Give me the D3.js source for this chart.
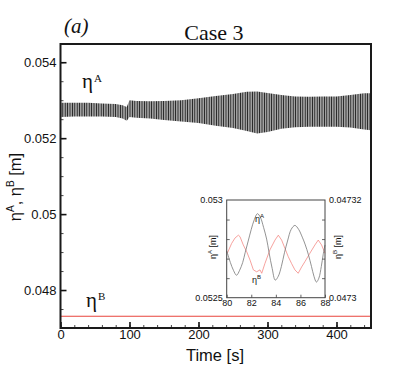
<!DOCTYPE html>
<html>
<head>
<meta charset="utf-8">
<style>
body { margin: 0; background: #fff; }
text { font-family: "Liberation Sans", Arial, sans-serif; fill: #111; }
.serif { font-family: "Liberation Serif", "Times New Roman", serif; }
</style>
<title>Case 3</title>
</head>
<body>
<div id="chart"></div>
<script src="https://d3js.org/d3.v7.min.js"></script>
<script>
// main panel: eta A is a fast oscillation, kept as its upper / lower envelope
var timeA  = [0, 20, 40, 60, 80, 90, 96, 100, 110, 130, 150, 175, 200, 225, 250, 270, 285, 300, 320, 340, 360, 380, 400, 420, 440, 450];
var upperA = [0.05293, 0.05293, 0.05293, 0.05291, 0.05290, 0.05287, 0.05282, 0.05300, 0.05298, 0.05297, 0.05298, 0.05300, 0.05305, 0.05311,
              0.05316, 0.05322, 0.05323, 0.05319, 0.05314, 0.05310, 0.05309, 0.05310, 0.05310, 0.05314, 0.05318, 0.05318];
var lowerA = [0.05256, 0.05257, 0.05257, 0.05257, 0.05256, 0.05252, 0.05246, 0.05256, 0.05254, 0.05252, 0.05248, 0.05244, 0.05240, 0.05233,
              0.05227, 0.05219, 0.05212, 0.05216, 0.05225, 0.05229, 0.05230, 0.05230, 0.05230, 0.05228, 0.05223, 0.05221];
var timeB = [0, 50, 100, 150, 200, 250, 300, 350, 400, 450];
var etaB  = [0.04731, 0.04731, 0.04731, 0.04731, 0.04731, 0.04731, 0.04731, 0.04731, 0.04731, 0.04731];
var xTicks = [0, 100, 200, 300, 400];
var yTicks = [0.048, 0.05, 0.052, 0.054];

// inset, t = 80..88 s
var insetTimeA = [80, 80.3, 80.55, 80.8, 81.05, 81.3, 81.5, 81.75, 82.0, 82.25, 82.5, 82.75, 83.0, 83.25, 83.45, 83.7, 83.95,
                  84.2, 84.45, 84.7, 84.95, 85.25, 85.55, 85.85, 86.15, 86.4, 86.65, 86.9, 87.1, 87.3, 87.5, 87.7, 87.85, 88];
var insetEtaA  = [0.05274, 0.05268, 0.05264, 0.052615, 0.05264, 0.05268, 0.05273, 0.05279, 0.05285, 0.05290, 0.05293, 0.05291,
                  0.05286, 0.05280, 0.05273, 0.05265, 0.05259, 0.05261, 0.05266, 0.05273, 0.05279, 0.05285, 0.05287, 0.05285,
                  0.05281, 0.05277, 0.05272, 0.05266, 0.05261, 0.05258, 0.05260, 0.05266, 0.05272, 0.05277];
var insetTimeB = [80.05, 80.4, 80.67, 80.95, 81.08, 81.35, 81.63, 81.9, 82.17, 82.44, 82.71, 82.85, 83.11, 83.52, 83.93, 84.2,
                  84.47, 84.74, 85.01, 85.28, 85.55, 85.82, 86.1, 86.37, 86.77, 87.18, 87.45, 87.72, 88];
var insetEtaB  = [0.0473091, 0.0473111, 0.0473122, 0.0473128, 0.0473125, 0.0473108, 0.0473094, 0.0473077, 0.0473057, 0.0473053,
                  0.0473057, 0.047305, 0.047307, 0.0473098, 0.0473118, 0.0473128, 0.0473118, 0.0473101, 0.0473084, 0.047307,
                  0.0473057, 0.047305, 0.0473063, 0.0473074, 0.0473091, 0.0473108, 0.0473118, 0.0473108, 0.0473091];
var insetXTicks  = [80, 82, 84, 86, 88];
var insetYTicksA = [0.0525, 0.053];
var insetYTicksB = [0.0473, 0.04732];

var width = 415,
    height = 369;

var svg = d3.select("#chart").append("svg")
    .attr("width", width)
    .attr("height", height);

var x = d3.scaleLinear().domain([0, 450]).range([60.5, 371]);
var y = d3.scaleLinear().domain([0.047, 0.05448]).range([328, 44]);

var defs = svg.append("defs");
var hatch = defs.append("pattern")
    .attr("id", "hatch")
    .attr("patternUnits", "userSpaceOnUse")
    .attr("width", 2.4)
    .attr("height", 10);
hatch.append("rect").attr("width", 2.4).attr("height", 10).attr("fill", "#a0a0a0");
hatch.append("rect").attr("width", 0.8).attr("height", 10).attr("fill", "#1a1a1a");

var bandA = timeA.map(function(t, i) { return {t: t, hi: upperA[i], lo: lowerA[i]}; });

svg.append("path")
    .datum(bandA)
    .attr("fill", "url(#hatch)")
    .attr("d", d3.area()
        .x(function(d) { return x(d.t); })
        .y0(function(d) { return y(d.lo); })
        .y1(function(d) { return y(d.hi); }));

svg.append("path")
    .datum(timeB.map(function(t, i) { return [t, etaB[i]]; }))
    .attr("fill", "none")
    .attr("stroke", "#e8443c")
    .attr("stroke-width", 1.2)
    .attr("d", d3.line()
        .x(function(d) { return x(d[0]); })
        .y(function(d) { return y(d[1]); }));

// axes
var fmt = d3.format("~g");

var gxMinor = svg.append("g")
    .attr("transform", "translate(0,328)")
    .call(d3.axisBottom(x).tickValues(x.ticks(22)).tickSize(-3).tickFormat(""));
var gyMinor = svg.append("g")
    .attr("transform", "translate(60.5,0)")
    .call(d3.axisLeft(y).tickValues(y.ticks(15)).tickSize(-3).tickFormat(""));
[gxMinor, gyMinor].forEach(function(g) {
    g.select(".domain").remove();
    g.selectAll("line").attr("stroke", "#444");
});

var gx = svg.append("g")
    .attr("transform", "translate(0,328)")
    .call(d3.axisBottom(x).tickValues(xTicks).tickSize(-6).tickPadding(2));
var gy = svg.append("g")
    .attr("transform", "translate(60.5,0)")
    .call(d3.axisLeft(y).tickValues(yTicks).tickSize(-6).tickPadding(4).tickFormat(fmt));
[gx, gy].forEach(function(g) {
    g.select(".domain").remove();
    g.selectAll("line").attr("stroke", "#111").attr("stroke-width", 1.6);
    g.selectAll("text").attr("font-size", 13).attr("fill", "#111")
        .style("font-family", "'Liberation Sans', Arial, sans-serif");
});

svg.append("rect")
    .attr("x", x(0)).attr("y", y(0.05448))
    .attr("width", x(450) - x(0)).attr("height", y(0.047) - y(0.05448))
    .attr("fill", "none")
    .attr("stroke", "#1a1a1a")
    .attr("stroke-width", 2);

// titles and labels
svg.append("text").attr("class", "serif")
    .attr("x", 64).attr("y", 33)
    .attr("font-size", 21).attr("font-style", "italic")
    .text("(a)");

svg.append("text").attr("class", "serif")
    .attr("x", 214).attr("y", 40)
    .attr("text-anchor", "middle")
    .attr("font-size", 22)
    .text("Case 3");

svg.append("text")
    .attr("x", 215).attr("y", 361)
    .attr("text-anchor", "middle")
    .attr("font-size", 16.5)
    .text("Time [s]");

var ytitle = svg.append("text")
    .attr("transform", "translate(21,187) rotate(-90)")
    .attr("text-anchor", "middle")
    .attr("font-size", 16.5);
ytitle.append("tspan").text("η");
ytitle.append("tspan").attr("font-size", 10).attr("dy", -7).text("A");
ytitle.append("tspan").attr("dy", 7).text(", η");
ytitle.append("tspan").attr("font-size", 10).attr("dy", -7).text("B");
ytitle.append("tspan").attr("dy", 7).text(" [m]");

var labA = svg.append("text").attr("class", "serif")
    .attr("x", 82).attr("y", 88).attr("font-size", 21);
labA.append("tspan").text("η");
labA.append("tspan").attr("font-size", 11).attr("dy", -6).attr("dx", 1).text("A");

var labB = svg.append("text").attr("class", "serif")
    .attr("x", 86).attr("y", 307).attr("font-size", 21);
labB.append("tspan").text("η");
labB.append("tspan").attr("font-size", 11).attr("dy", -7).attr("dx", 1).text("B");

// inset
var ix  = d3.scaleLinear().domain([80, 88]).range([226.7, 325]);
var iyA = d3.scaleLinear().domain([0.0525, 0.053]).range([297.7, 200]);
var iyB = d3.scaleLinear().domain([0.0473, 0.04732]).range([297.7, 200]);

var inset = svg.append("g");

inset.append("path")
    .datum(insetTimeB.map(function(t, i) { return [t, insetEtaB[i]]; }))
    .attr("fill", "none")
    .attr("stroke", "#f27a74")
    .attr("stroke-width", 0.7)
    .attr("d", d3.line()
        .x(function(d) { return ix(d[0]); })
        .y(function(d) { return iyB(d[1]); }));

inset.append("path")
    .datum(insetTimeA.map(function(t, i) { return [t, insetEtaA[i]]; }))
    .attr("fill", "none")
    .attr("stroke", "#777")
    .attr("stroke-width", 0.8)
    .attr("d", d3.line()
        .curve(d3.curveCatmullRom)
        .x(function(d) { return ix(d[0]); })
        .y(function(d) { return iyA(d[1]); }));

var ibx = inset.append("g")
    .attr("transform", "translate(0,297.7)")
    .call(d3.axisBottom(ix).tickValues(insetXTicks).tickSize(-3).tickPadding(2));
var ibl = inset.append("g")
    .attr("transform", "translate(226.7,0)")
    .call(d3.axisLeft(iyA).tickValues(insetYTicksA).tickSize(0).tickPadding(4).tickFormat(fmt));
var ibr = inset.append("g")
    .attr("transform", "translate(325,0)")
    .call(d3.axisRight(iyB).tickValues(insetYTicksB).tickSize(0).tickPadding(4).tickFormat(fmt));
var iml = inset.append("g")
    .attr("transform", "translate(226.7,0)")
    .call(d3.axisLeft(iyA).tickValues(iyA.ticks(5).slice(1, -1)).tickSize(-3).tickFormat(""));
var imr = inset.append("g")
    .attr("transform", "translate(325,0)")
    .call(d3.axisRight(iyA).tickValues(iyA.ticks(5).slice(1, -1)).tickSize(-3).tickFormat(""));
[ibx, ibl, ibr, iml, imr].forEach(function(g) {
    g.select(".domain").remove();
    g.selectAll("line").attr("stroke", "#666");
    g.selectAll("text").attr("font-size", 9).attr("fill", "#222")
        .style("font-family", "'Liberation Sans', Arial, sans-serif");
});

inset.append("rect")
    .attr("x", ix(80)).attr("y", iyA(0.053))
    .attr("width", ix(88) - ix(80)).attr("height", iyA(0.0525) - iyA(0.053))
    .attr("fill", "none")
    .attr("stroke", "#444")
    .attr("stroke-width", 1);

function insetLabel(px, py, sup, rotate) {
    var t = inset.append("text")
        .attr("font-size", 9)
        .attr("fill", "#222");
    if (rotate) {
        t.attr("transform", "translate(" + px + "," + py + ") rotate(-90)")
         .attr("text-anchor", "middle");
    } else {
        t.attr("x", px).attr("y", py);
    }
    t.append("tspan").text("η");
    t.append("tspan").attr("font-size", 6).attr("dy", -4).text(sup);
    if (rotate) t.append("tspan").attr("dy", 4).text(" [m]");
}

insetLabel(255, 222, "A", false);
insetLabel(252, 283, "B", false);
insetLabel(216, 247, "A", true);
insetLabel(341, 247, "B", true);
</script>
</body>
</html>
